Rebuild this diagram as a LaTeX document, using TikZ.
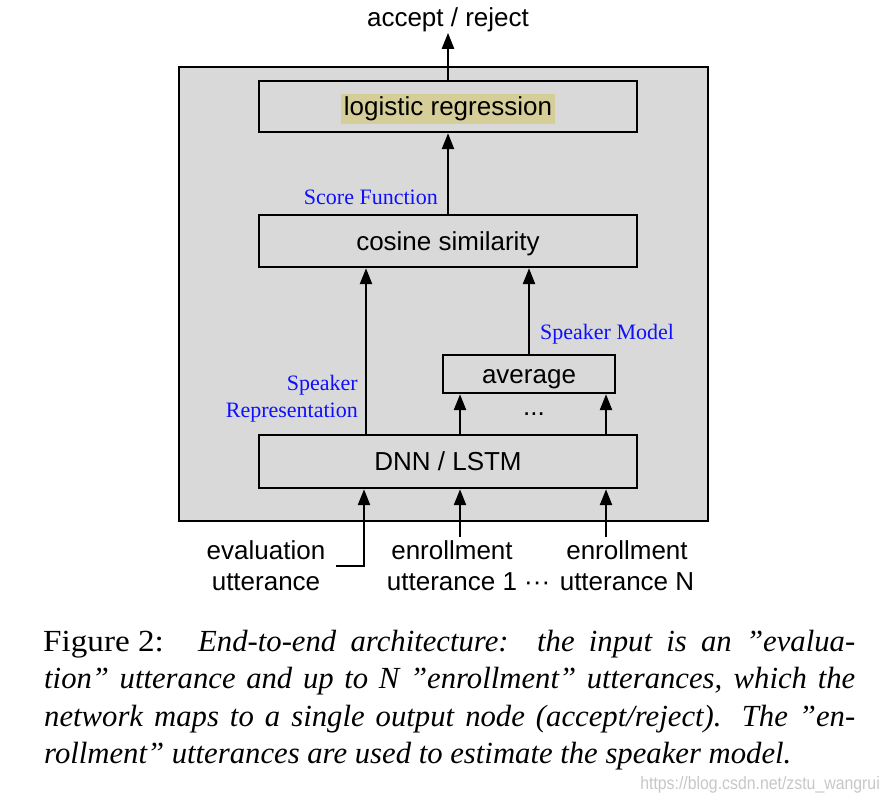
\documentclass[tikz,border=0pt]{standalone}
\usepackage{fontspec}
\setmainfont{Liberation Serif}
\setsansfont{Liberation Sans}
\usetikzlibrary{arrows.meta,calc}
\definecolor{panel}{RGB}{217,217,217}
\definecolor{hl}{RGB}{214,206,152}
\definecolor{lblue}{RGB}{15,15,255}
\tikzset{
  blk/.style={draw, line width=2.4pt, inner sep=0pt, minimum width=378pt,
    text height=22pt, text depth=4pt,
    font=\sffamily\fontsize{26}{30}\selectfont},
  arr/.style={line width=2.4pt, -{Triangle[width=12pt,length=16pt]}},
  sans/.style={font=\sffamily\fontsize{26}{31}\selectfont, inner sep=2pt},
  bluelbl/.style={text=lblue, font=\rmfamily\fontsize{22}{27}\selectfont, inner sep=2pt},
  captxt/.style={anchor=base west, inner sep=0pt, font=\rmfamily\fontsize{30.7}{37}\selectfont}
}
\begin{document}
\begin{tikzpicture}[x=1pt,y=-1pt]
\useasboundingbox (0,0) rectangle (890,802);
% panel
\node[draw, fill=panel, line width=2.4pt, minimum width=529pt, minimum height=454pt, inner sep=0pt] (panel) at (443.5,294) {};
% boxes
\node[blk, minimum height=51pt] (lr) at (448,106.5) {\setlength{\fboxsep}{3pt}\colorbox{hl}{logistic regression}};
\node[blk, minimum height=52pt] (cos) at (448,241) {cosine similarity};
\node[blk, minimum height=53pt] (dnn) at (448,461.5) {DNN / LSTM};
\node[blk, minimum width=172pt, minimum height=38pt] (avg) at (529,374) {average};
% x positions
\coordinate (xA) at (366,0);
\coordinate (xB) at (460,0);
\coordinate (xC) at (606,0);
\coordinate (xL) at (364,0);
% top output
\node[sans, inner sep=1pt] (acc) at (448,19.5) {accept / reject};
\draw[arr] (lr.north) -- (acc.south);
\draw[arr] (cos.north) -- (lr.south);
\draw[arr] (dnn.north -| xA) -- (cos.south -| xA);
\draw[arr] (avg.north) -- (cos.south -| avg.north);
\draw[arr] (dnn.north -| xB) -- (avg.south -| xB);
\draw[arr] (dnn.north -| xC) -- (avg.south -| xC);
\node[sans, inner sep=0pt] (dots) at (534,414) {...};
% labels
\node[bluelbl, anchor=east] (sf) at (440,197) {Score Function};
\node[bluelbl, anchor=west] (sm) at (538,334) {Speaker Model};
\node[bluelbl, anchor=east, align=right] (sr) at (360,398.5) {Speaker\\Representation};
% inputs
\node[sans, align=center] (ev) at (266,566) {evaluation\\utterance};
\node[sans, align=center] (en1) at (452,566) {enrollment\\utterance 1\rlap{ ···}};
\node[sans, align=center] (enN) at (627,566) {enrollment\\utterance N};
\coordinate (evc) at (336,566);
\coordinate (in1) at (460,537);
\coordinate (inN) at (606,537);
\draw[arr] (evc) -| (dnn.south -| xL);
\draw[arr] (in1) -- (dnn.south -| in1);
\draw[arr] (inN) -- (dnn.south -| inN);
% caption
\node[captxt] (c0) at (43,651) {\scalebox{1.08}[1]{Figure 2:}};
\node[captxt] (c1) at (198,651) {\itshape\makebox[657pt][s]{End-to-end architecture:\ \ the input is an ”evalua-}};
\node[captxt] (c2) at (44,688.5) {\itshape\makebox[811pt][s]{tion” utterance and up to N ”enrollment” utterances, which the}};
\node[captxt] (c3) at (44,726) {\itshape\makebox[811pt][s]{network maps to a single output node (accept/reject). The ”en-}};
\node[captxt] (c4) at (44,763.5) {\itshape rollment” utterances are used to estimate the speaker model.};
\node[anchor=base east, inner sep=0pt, text=black!22, font=\sffamily\fontsize{18}{20}\selectfont] (wm) at (880,789) {\scalebox{0.88}[1]{https://blog.csdn.net/zstu\_wangrui}};
\end{tikzpicture}
\end{document}
